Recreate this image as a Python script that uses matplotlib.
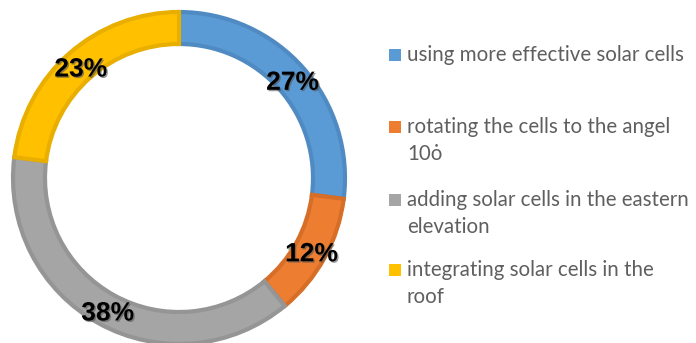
import matplotlib
matplotlib.use("Agg")
import matplotlib.pyplot as plt
import matplotlib.patheffects as pe
from matplotlib.patches import Rectangle

# Data
categories = [
    "using more effective solar cells",
    "rotating the cells to the angel\n10ȯ",
    "adding solar cells in the eastern\nelevation",
    "integrating solar cells in the\nroof",
]
values = [27, 12, 38, 23]
colors = ["#5B9BD5", "#ED7D31", "#A5A5A5", "#FFC000"]
edge_colors = ["#4F8BC2", "#D66E27", "#959595", "#E8AE00"]

W, H = 696, 343
fig = plt.figure(figsize=(W / 100, H / 100), dpi=100)
ax = fig.add_axes([0, 0, 1, 1])

cx, cy = 179, H - 178
R = 166
ring = 32
wedges, texts, autotexts = ax.pie(
    values, colors=colors, startangle=90, counterclock=False,
    radius=R, center=(cx, cy),
    wedgeprops=dict(width=ring, linewidth=3),
    autopct="%.0f%%", pctdistance=(R - ring / 2) / R,
    textprops=dict(fontsize=19, fontweight="bold", color="black",
                   family="Liberation Sans"),
)
for w, ec in zip(wedges, edge_colors):
    w.set_edgecolor(ec)
for t in autotexts:
    x, y = t.get_position()
    t.set_position((x + 1, y - 4))
    t.set_path_effects([pe.SimplePatchShadow(offset=(1, -1), shadow_rgbFace="#555555", alpha=0.6),
                        pe.Normal()])
ax.set_xlim(0, W)
ax.set_ylim(0, H)
ax.set_aspect("auto")
ax.axis("off")

# Legend drawn manually
row_y = [55, 127, 200, 270]
line_gap = 27
sq = 12
for lab, col, y in zip(categories, colors, row_y):
    ax.add_patch(Rectangle((389, H - y - sq / 2), sq, sq, facecolor=col, edgecolor="none"))
    for i, line in enumerate(lab.split("\n")):
        ax.text(407, H - (y + i * line_gap), line, fontsize=14.8, color="#5f5f5f",
                family=["Lato", "DejaVu Sans"], va="center", ha="left")

fig.savefig("out.png", dpi=100)
